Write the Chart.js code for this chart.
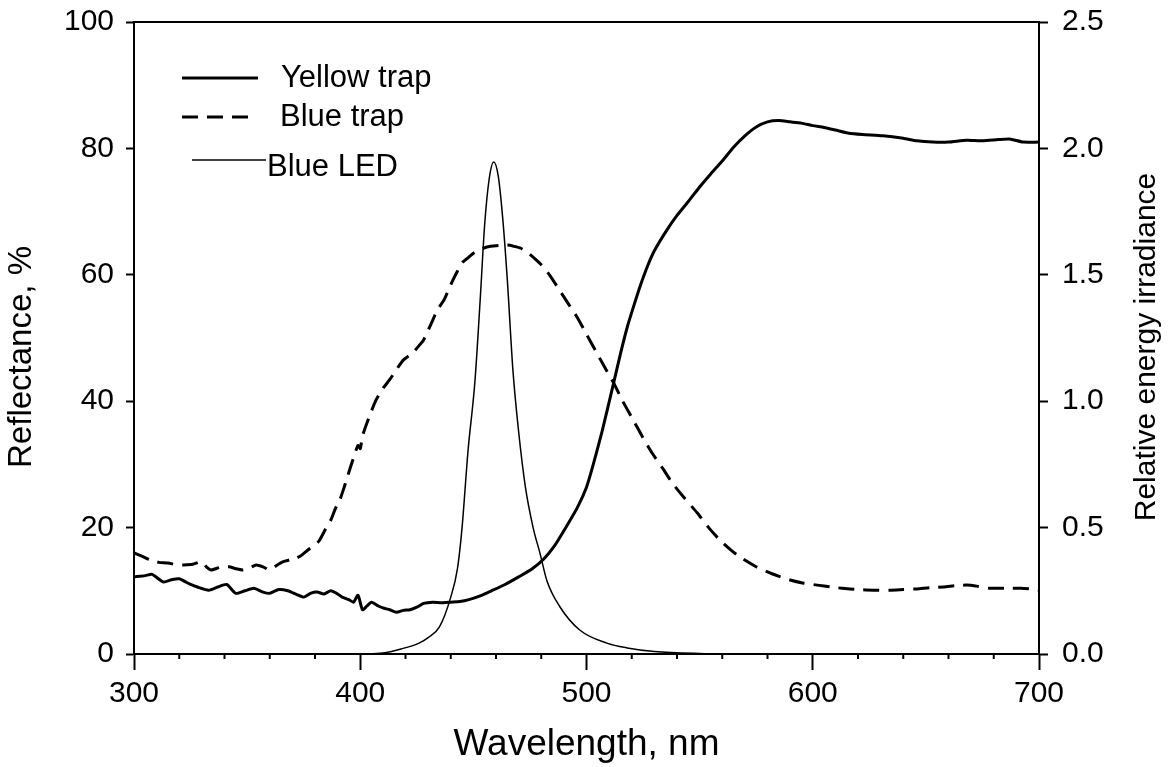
<!DOCTYPE html>
<html>
<head>
<meta charset="utf-8">
<script src="https://cdn.jsdelivr.net/npm/chart.js@4"></script>
<style>
  html, body { margin: 0; padding: 0; background: #fff; }
  #wrap { width: 1168px; height: 767px; }
</style>
</head>
<body>
<div id="wrap"><canvas id="grafica"></canvas></div>
<script>
// Yellow trap reflectance, %
const ondaAmarilla = [300, 305, 308, 313, 317, 320, 325, 328, 333, 337, 341, 345, 349, 353, 357, 360, 364, 368, 372, 375, 378, 381, 384, 387, 390, 392, 395, 397, 399, 401, 403, 405, 408, 410, 413, 416, 419, 422, 425, 428, 432, 436, 440, 444, 448, 453, 458, 464, 470, 476, 481, 486, 491, 496, 500, 503, 507, 512, 515, 518, 521, 524, 527, 530, 535, 540, 545, 550, 555, 560, 565, 570, 575, 580, 585, 590, 595, 600, 605, 610, 616, 622, 631, 640, 646, 653, 660, 668, 675, 682, 687, 693, 700];
const reflAmarilla = [12.2, 12.4, 12.6, 11.4, 11.8, 11.9, 11.0, 10.6, 10.1, 10.6, 11.0, 9.6, 10.0, 10.4, 9.8, 9.6, 10.2, 10.0, 9.4, 9.0, 9.6, 9.8, 9.5, 10.0, 9.5, 9.0, 8.6, 8.2, 9.3, 7.0, 7.6, 8.2, 7.6, 7.3, 7.0, 6.6, 6.9, 7.0, 7.4, 8.0, 8.2, 8.1, 8.2, 8.3, 8.6, 9.2, 10.0, 11.0, 12.2, 13.5, 15.0, 17.2, 20.1, 23.2, 26.4, 30.0, 35.4, 42.9, 47.5, 51.7, 55.2, 58.5, 61.4, 63.8, 66.8, 69.4, 71.6, 73.9, 76.0, 78.0, 80.2, 82.0, 83.4, 84.2, 84.4, 84.2, 84.0, 83.6, 83.3, 82.9, 82.4, 82.2, 82.0, 81.6, 81.2, 81.0, 81.0, 81.3, 81.2, 81.4, 81.5, 81.0, 81.0];

// Blue trap reflectance, %
const ondaAzul = [300, 304, 307, 311, 315, 319, 322, 326, 330, 332, 334, 338, 342, 345, 348, 351, 354, 357, 360, 363, 366, 369, 372, 374, 377, 380, 382, 385, 387, 389, 391, 393, 395, 397, 399, 400, 401, 403, 405, 407, 410, 413, 416, 419, 423, 426, 428, 430, 432, 434, 437, 439, 441, 443, 445, 448, 450, 453, 456, 460, 465, 468, 471, 474, 477, 480, 484, 488, 492, 496, 500, 504, 508, 512, 516, 521, 525, 529, 534, 538, 543, 549, 554, 559, 564, 568, 575, 582, 590, 596, 602, 608, 613, 620, 627, 634, 640, 646, 652, 658, 663, 668, 673, 678, 685, 692, 696, 700];
const reflAzul = [16.0, 15.4, 14.9, 14.5, 14.4, 14.1, 14.1, 14.2, 14.6, 13.8, 13.3, 13.7, 13.8, 13.5, 13.3, 13.6, 14.1, 13.8, 13.3, 14.0, 14.6, 14.9, 15.2, 15.6, 16.5, 17.2, 18.0, 20.0, 21.2, 23.0, 24.4, 26.5, 28.8, 31.0, 33.0, 32.5, 34.5, 36.6, 38.5, 40.2, 42.0, 43.4, 45.0, 46.5, 47.6, 48.8, 49.7, 51.2, 52.8, 54.4, 56.0, 57.6, 59.2, 60.6, 61.9, 62.8, 63.4, 64.0, 64.4, 64.6, 64.7, 64.5, 64.2, 63.5, 62.6, 61.6, 59.8, 57.6, 55.4, 53.2, 50.6, 48.0, 45.4, 42.9, 40.0, 36.8, 34.2, 31.8, 29.2, 27.0, 24.8, 22.3, 20.0, 18.0, 16.4, 15.3, 13.8, 12.7, 11.7, 11.2, 10.9, 10.6, 10.4, 10.2, 10.1, 10.1, 10.2, 10.3, 10.5, 10.6, 10.8, 10.9, 10.7, 10.4, 10.4, 10.4, 10.3, 10.1];

// Blue LED relative energy irradiance
const ondaLed = [400, 410, 418, 426, 430, 435, 440, 443, 445, 447.6, 450.7, 453, 455, 457, 459, 461, 463, 465, 467.5, 470, 473, 476.4, 479.4, 482.5, 488.3, 497, 509, 518, 530, 550, 570];
const irrLed = [0.0, 0.004, 0.02, 0.043, 0.065, 0.107, 0.225, 0.34, 0.50, 0.80, 1.08, 1.40, 1.70, 1.88, 1.946, 1.89, 1.72, 1.48, 1.12, 0.88, 0.66, 0.50, 0.40, 0.29, 0.186, 0.095, 0.043, 0.024, 0.01, 0.002, 0.0];

const nombres = ["Yellow trap", "Blue trap", "Blue LED"];
const titulos = ["Wavelength, nm", "Reflectance, %", "Relative energy irradiance"];
const ticksX = [300, 400, 500, 600, 700];
const ticksIzq = [0, 20, 40, 60, 80, 100];
const ticksDer = [0, 0.5, 1.0, 1.5, 2.0, 2.5];

function puntos(xs, ys) {
  var out = [];
  for (var i = 0; i < xs.length; i++) {
    out.push({ x: xs[i], y: ys[i] });
  }
  return out;
}

Chart.defaults.font.family = "'Liberation Sans', Arial, sans-serif";
Chart.defaults.font.size = 30;
Chart.defaults.color = "#000";

// minor ticks on the wavelength axis, top frame line, y titles
const marcasMenores = {
  id: "marcasMenores",
  afterDraw(chart) {
    const ctx = chart.ctx;
    const sx = chart.scales.x;
    const a = chart.chartArea;
    ctx.save();
    ctx.strokeStyle = "#000";
    ctx.lineWidth = 2;
    for (var v = 320; v < 700; v += 20) {
      if (v % 100 === 0) continue;
      const px = sx.getPixelForValue(v);
      ctx.beginPath();
      ctx.moveTo(px, sx.top);
      ctx.lineTo(px, sx.top + 5);
      ctx.stroke();
    }
    ctx.beginPath();
    ctx.moveTo(a.left, a.top);
    ctx.lineTo(a.right, a.top);
    ctx.stroke();

    // both vertical titles read bottom to top
    ctx.fillStyle = "#000";
    ctx.textAlign = "center";
    ctx.textBaseline = "middle";
    ctx.font = "33px 'Liberation Sans', Arial, sans-serif";
    ctx.save();
    ctx.translate(22, 357);
    ctx.rotate(-Math.PI / 2);
    ctx.fillText(titulos[1], 0, 0);
    ctx.restore();
    ctx.font = "30px 'Liberation Sans', Arial, sans-serif";
    ctx.save();
    ctx.translate(1147, 347);
    ctx.rotate(-Math.PI / 2);
    ctx.fillText(titulos[2], 0, 0);
    ctx.restore();
    ctx.restore();
  },
};

// legend drawn inside the plot, like the original
const leyenda = {
  id: "leyenda",
  afterDraw(chart) {
    const ctx = chart.ctx;
    const filas = [
      { ds: 0, x1: 182, x2: 258, y: 78, tx: 281, ty: 78 },
      { ds: 1, x1: 182, x2: 252, y: 117, tx: 280, ty: 117 },
      { ds: 2, x1: 192, x2: 266, y: 160, tx: 267, ty: 167 },
    ];
    ctx.save();
    for (var i = 0; i < filas.length; i++) {
      const f = filas[i];
      const ds = chart.data.datasets[f.ds];
      ctx.strokeStyle = ds.borderColor;
      ctx.lineWidth = ds.borderWidth;
      ctx.setLineDash(ds.borderDash || []);
      ctx.beginPath();
      ctx.moveTo(f.x1, f.y);
      ctx.lineTo(f.x2, f.y);
      ctx.stroke();
      ctx.setLineDash([]);
      ctx.fillStyle = "#000";
      ctx.font = "31px 'Liberation Sans', Arial, sans-serif";
      ctx.textBaseline = "middle";
      ctx.textAlign = "left";
      ctx.fillText(ds.label, f.tx, f.ty);
    }
    ctx.restore();
  },
};

function ajusteVertical(ancho) {
  return function (s) {
    s.width = ancho;
    s.paddingTop = 0;
    s.paddingBottom = 0;
  };
}

new Chart(document.querySelector("#grafica").getContext("2d"), {
  type: "line",
  data: {
    datasets: [
      {
        label: nombres[0],
        data: puntos(ondaAmarilla, reflAmarilla),
        borderColor: "#000",
        borderWidth: 3,
        pointRadius: 0,
        tension: 0.2,
        yAxisID: "y",
      },
      {
        label: nombres[1],
        data: puntos(ondaAzul, reflAzul),
        borderColor: "#000",
        borderWidth: 3,
        borderDash: [16, 9],
        pointRadius: 0,
        tension: 0.2,
        yAxisID: "y",
      },
      {
        label: nombres[2],
        data: puntos(ondaLed, irrLed),
        borderColor: "#000",
        borderWidth: 1.5,
        pointRadius: 0,
        cubicInterpolationMode: "monotone",
        yAxisID: "y1",
      },
    ],
  },
  options: {
    responsive: true,
    maintainAspectRatio: false,
    animation: false,
    events: [],
    layout: { padding: { top: 22, left: 0, right: 0, bottom: 0 } },
    plugins: { legend: { display: false }, tooltip: { enabled: false } },
    scales: {
      x: {
        type: "linear",
        min: 300,
        max: 700,
        afterFit: function (s) {
          s.height = 113;
          s.paddingLeft = 0;
          s.paddingRight = 0;
        },
        afterBuildTicks: function (s) { s.ticks = ticksX.map(function (v) { return { value: v }; }); },
        ticks: { padding: 6, maxRotation: 0, font: { size: 30 } },
        grid: { drawOnChartArea: false, color: "#000", tickLength: 16, tickWidth: 2 },
        border: { color: "#000", width: 2 },
        title: { display: true, text: titulos[0], font: { size: 37 }, padding: { top: 0, bottom: 0 } },
      },
      y: {
        position: "left",
        min: 0,
        max: 100,
        afterFit: ajusteVertical(134),
        afterBuildTicks: function (s) { s.ticks = ticksIzq.map(function (v) { return { value: v }; }); },
        ticks: { padding: 12, font: { size: 30 } },
        grid: { drawOnChartArea: false, color: "#000", tickLength: 8, tickWidth: 2 },
        border: { color: "#000", width: 2 },
      },
      y1: {
        position: "right",
        min: 0,
        max: 2.5,
        afterFit: ajusteVertical(129),
        afterBuildTicks: function (s) { s.ticks = ticksDer.map(function (v) { return { value: v }; }); },
        ticks: { padding: 14, font: { size: 30 }, callback: function (v) { return Number(v).toFixed(1); } },
        grid: { drawOnChartArea: false, color: "#000", tickLength: 9, tickWidth: 2 },
        border: { color: "#000", width: 2 },
      },
    },
  },
  plugins: [marcasMenores, leyenda],
});
</script>
</body>
</html>
